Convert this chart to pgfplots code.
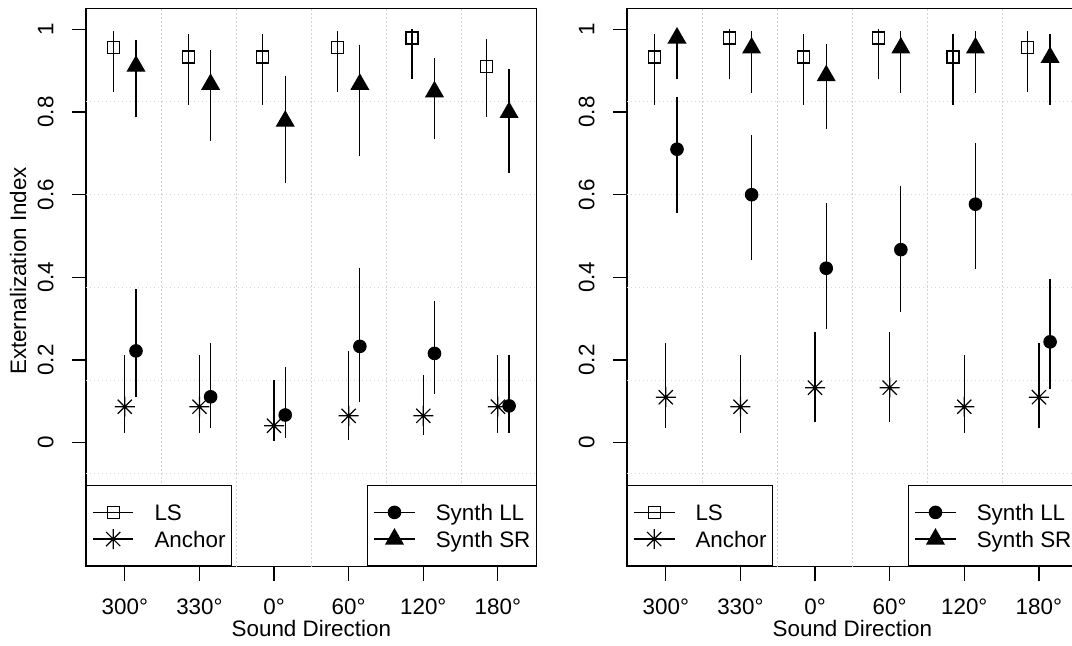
\documentclass[border=0pt]{standalone}
\usepackage{fontspec}
\setmainfont{Liberation Sans}
\usepackage{pgfplots}
\usepackage{pgfplotstable}
\pgfplotsset{compat=1.18}

\definecolor{gridgray}{RGB}{211,211,211}

% R-like marks: pch 8 (asterisk) and pch 17 (filled triangle)
\pgfdeclareplotmark{rstar}{%
  \pgfpathmoveto{\pgfqpoint{-\pgfplotmarksize}{0pt}}\pgfpathlineto{\pgfqpoint{\pgfplotmarksize}{0pt}}%
  \pgfpathmoveto{\pgfqpoint{0pt}{-\pgfplotmarksize}}\pgfpathlineto{\pgfqpoint{0pt}{\pgfplotmarksize}}%
  \pgfpathmoveto{\pgfqpoint{-0.7071\pgfplotmarksize}{-0.7071\pgfplotmarksize}}\pgfpathlineto{\pgfqpoint{0.7071\pgfplotmarksize}{0.7071\pgfplotmarksize}}%
  \pgfpathmoveto{\pgfqpoint{-0.7071\pgfplotmarksize}{0.7071\pgfplotmarksize}}\pgfpathlineto{\pgfqpoint{0.7071\pgfplotmarksize}{-0.7071\pgfplotmarksize}}%
  \pgfusepathqstroke}
\pgfdeclareplotmark{rtri}{%
  \pgfpathmoveto{\pgfqpoint{0pt}{\pgfplotmarksize}}%
  \pgfpathlineto{\pgfqpoint{0.866\pgfplotmarksize}{-0.5\pgfplotmarksize}}%
  \pgfpathlineto{\pgfqpoint{-0.866\pgfplotmarksize}{-0.5\pgfplotmarksize}}%
  \pgfpathclose\pgfusepathqfillstroke}

% x y lo hi  (x = direction index, offset per series)
\pgfplotstableread{
x y lo hi
0.85 0.956 0.848 0.996
1.85 0.933 0.817 0.988
2.85 0.933 0.817 0.988
3.85 0.956 0.848 0.996
4.85 0.979 0.881 1.000
5.85 0.911 0.787 0.976
}\lsA
\pgfplotstableread{
x y lo hi
1 0.087 0.024 0.213
2 0.087 0.024 0.213
3 0.041 0.004 0.152
4 0.065 0.007 0.222
5 0.065 0.018 0.163
6 0.087 0.024 0.213
}\anA
\pgfplotstableread{
x y lo hi
1.15 0.222 0.111 0.372
2.15 0.111 0.036 0.241
3.15 0.067 0.012 0.182
4.15 0.233 0.098 0.423
5.15 0.216 0.119 0.343
6.15 0.089 0.024 0.213
}\llA
\pgfplotstableread{
x y lo hi
1.15 0.911 0.787 0.975
2.15 0.867 0.731 0.950
3.15 0.778 0.628 0.888
4.15 0.867 0.693 0.963
5.15 0.849 0.734 0.930
6.15 0.799 0.653 0.905
}\srA
\pgfplotstableread{
x y lo hi
0.85 0.933 0.817 0.988
1.85 0.979 0.881 1.000
2.85 0.933 0.817 0.988
3.85 0.979 0.881 1.000
4.85 0.933 0.817 0.988
5.85 0.956 0.848 0.996
}\lsB
\pgfplotstableread{
x y lo hi
1 0.110 0.036 0.241
2 0.087 0.024 0.213
3 0.133 0.049 0.268
4 0.133 0.049 0.268
5 0.087 0.024 0.213
6 0.110 0.036 0.241
}\anB
\pgfplotstableread{
x y lo hi
1.15 0.710 0.556 0.837
2.15 0.600 0.443 0.744
3.15 0.422 0.276 0.580
4.15 0.467 0.315 0.622
5.15 0.577 0.421 0.724
6.15 0.244 0.129 0.396
}\llB
\pgfplotstableread{
x y lo hi
1.15 0.979 0.881 1.000
2.15 0.955 0.847 0.996
3.15 0.888 0.759 0.964
4.15 0.955 0.847 0.996
5.15 0.955 0.847 0.996
6.15 0.932 0.817 0.988
}\srB

\pgfplotsset{
  geom/.style={
    scale only axis, width=225.35pt, height=279pt, anchor=south west,
    xmin=0.48, xmax=6.52, ymin=-0.3, ymax=1.05,
  },
  rpanel/.style={
    geom,
    xtick={1,2,3,4,5,6},
    xticklabels={300°,330°,0°,60°,120°,180°},
    ytick={0,0.2,0.4,0.6,0.8,1},
    tick pos=left, tick align=outside, major tick length=7pt,
    tick style={black, line width=0.6pt},
    axis line style={line width=0.6pt},
    /pgf/number format/assume math mode=true,
    xticklabel style={anchor=base, inner sep=0pt},
    yticklabel style={rotate=90, anchor=base, inner sep=0pt},
    xticklabel shift=17.15pt, yticklabel shift=9.35pt,
    extra x ticks={1.4867,2.4933,3.5,4.5067,5.5133},
    extra y ticks={-0.075,0.15,0.375,0.6,0.825},
    extra x tick labels={}, extra y tick labels={},
    extra tick style={grid=major, major tick length=0pt},
    major grid style={gridgray, line width=0.6pt, dash pattern=on 0.6pt off 1.4pt},
    xlabel={Sound Direction},
    xlabel style={at={(axis description cs:0.5,-0.1254)}, anchor=base, inner sep=0pt},
  },
  rleg/.style={
    legend cell align=left,
    legend image code/.code={
      \draw[black, line width=0.6pt] (0pt,0pt) -- (20.3pt,0pt);
      \draw[##1] plot coordinates {(10.15pt,0pt)};},
    legend style={draw=black, line width=0.6pt, fill=white,
      inner xsep=2.85pt, inner ysep=7.31pt, row sep=0.97pt,
      nodes={inner sep=0pt, text height=10.2pt, text depth=2.18pt},
      /tikz/every odd column/.append style={column sep=10.2pt}},
  },
  ebar/.style={error bars/.cd, y dir=both, y explicit, error mark=none,
    error bar style={black, line width=0.6pt}},
  lsS/.style={black, line width=0.6pt, only marks, mark=square, mark size=3pt},
  anS/.style={black, line width=0.6pt, only marks, mark=rstar, mark size=5pt},
  llS/.style={black, fill=black, line width=0.6pt, only marks, mark=*, mark size=3.1pt},
  srS/.style={black, fill=black, line width=0.6pt, only marks, mark=rtri, mark size=4.9pt},
}

\begin{document}
\fontsize{11.2}{13.4}\selectfont
\begin{tikzpicture}
  % left panel
  \begin{axis}[rpanel, rleg, at={(43pt,39.65pt)},
      ylabel={Externalization Index},
      ylabel style={at={(axis description cs:-0.1331,0.53)}, anchor=base, inner sep=0pt},
      legend style={at={(0,0)}, anchor=south west}]
    \addplot[lsS, ebar] table[x=x, y=y, y error plus expr=\thisrow{hi}-\thisrow{y}, y error minus expr=\thisrow{y}-\thisrow{lo}] {\lsA};
    \addlegendentry{LS}
    \addplot[anS, ebar] table[x=x, y=y, y error plus expr=\thisrow{hi}-\thisrow{y}, y error minus expr=\thisrow{y}-\thisrow{lo}] {\anA};
    \addlegendentry{Anchor}
  \end{axis}
  \begin{axis}[geom, hide axis, rleg, at={(43pt,39.65pt)},
      legend style={at={(1,0)}, anchor=south east}]
    \addplot[llS, ebar] table[x=x, y=y, y error plus expr=\thisrow{hi}-\thisrow{y}, y error minus expr=\thisrow{y}-\thisrow{lo}] {\llA};
    \addlegendentry{Synth LL}
    \addplot[srS, ebar] table[x=x, y=y, y error plus expr=\thisrow{hi}-\thisrow{y}, y error minus expr=\thisrow{y}-\thisrow{lo}] {\srA};
    \addlegendentry{Synth SR}
  \end{axis}
  % right panel
  \begin{axis}[rpanel, rleg, at={(313.5pt,39.65pt)},
      legend style={at={(0,0)}, anchor=south west}]
    \addplot[lsS, ebar] table[x=x, y=y, y error plus expr=\thisrow{hi}-\thisrow{y}, y error minus expr=\thisrow{y}-\thisrow{lo}] {\lsB};
    \addlegendentry{LS}
    \addplot[anS, ebar] table[x=x, y=y, y error plus expr=\thisrow{hi}-\thisrow{y}, y error minus expr=\thisrow{y}-\thisrow{lo}] {\anB};
    \addlegendentry{Anchor}
  \end{axis}
  \begin{axis}[geom, hide axis, rleg, at={(313.5pt,39.65pt)},
      legend style={at={(1,0)}, anchor=south east}]
    \addplot[llS, ebar] table[x=x, y=y, y error plus expr=\thisrow{hi}-\thisrow{y}, y error minus expr=\thisrow{y}-\thisrow{lo}] {\llB};
    \addlegendentry{Synth LL}
    \addplot[srS, ebar] table[x=x, y=y, y error plus expr=\thisrow{hi}-\thisrow{y}, y error minus expr=\thisrow{y}-\thisrow{lo}] {\srB};
    \addlegendentry{Synth SR}
  \end{axis}
  \pgfresetboundingbox
  \useasboundingbox (0pt,0pt) rectangle (536pt,323pt);
\end{tikzpicture}
\end{document}
